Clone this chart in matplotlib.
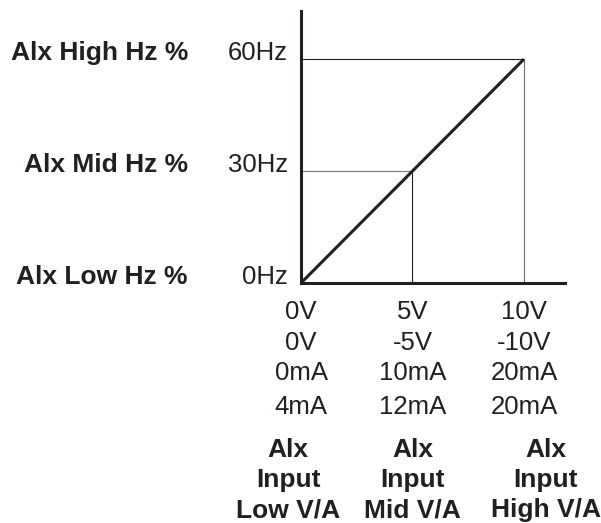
import matplotlib

matplotlib.use("Agg")
import matplotlib.pyplot as plt

# значения схемы: вход (В) -> частота (Гц)
x_points = [0, 5, 10]
hz_values = [0, 30, 60]
hz_labels = ["0Hz", "30Hz", "60Hz"]
hz_names = ["Alx Low Hz %", "Alx Mid Hz %", "Alx High Hz %"]

volt_row = ["0V", "5V", "10V"]
neg_volt_row = ["0V", "-5V", "-10V"]
ma_row = ["0mA", "10mA", "20mA"]
ma4_row = ["4mA", "12mA", "20mA"]
input_names = ["Alx\nInput\nLow V/A", "Alx\nInput\nMid V/A", "Alx\nInput\nHigh V/A"]

INK = "#231f20"
GREY = "#808080"

plt.rcParams["font.family"] = ["Liberation Sans", "DejaVu Sans"]

fig = plt.figure(figsize=(6.01, 5.23), dpi=100)
ax = fig.add_axes([301 / 601, 1 - 283 / 523, 264 / 601, 272 / 523])
ax.set_xlim(0, 11.84)
ax.set_ylim(0, 72.9)

for side in ("top", "right"):
    ax.spines[side].set_visible(False)
for side in ("left", "bottom"):
    ax.spines[side].set_linewidth(2.2)
    ax.spines[side].set_color(INK)
ax.set_xticks([])
ax.set_yticks([])

# направляющие линии
ax.plot([0, x_points[1]], [hz_values[1]] * 2, color=GREY, lw=0.9, zorder=1)
ax.plot([x_points[1]] * 2, [0, hz_values[1]], color=INK, lw=0.8, zorder=1)
ax.plot([0, x_points[2]], [hz_values[2]] * 2, color=INK, lw=0.8, zorder=1)
ax.plot([x_points[2]] * 2, [0, hz_values[2]], color="#6e6e6e", lw=0.8, zorder=1)

# характеристика
ax.plot(x_points, hz_values, color=INK, lw=2.2, solid_capstyle="butt",
        clip_on=False, zorder=3)

# подписи слева
for y, lab, name in zip(hz_values, hz_labels, hz_names):
    ax.annotate(lab, xy=(0, y), xytext=(-13, 6), textcoords="offset pixels",
                ha="right", va="center", fontsize=18.5, color=INK,
                annotation_clip=False)
    ax.annotate(name, xy=(0, y), xytext=(-113, 6), textcoords="offset pixels",
                ha="right", va="center", fontsize=19, fontweight="bold",
                color=INK, annotation_clip=False)

# подписи снизу
rows = [(volt_row, 29), (neg_volt_row, 60), (ma_row, 90), (ma4_row, 124)]
for labels, dy in rows:
    for x, lab in zip(x_points, labels):
        ax.annotate(lab, xy=(x, 0), xytext=(0, -dy), textcoords="offset pixels",
                    ha="center", va="center", fontsize=18.5, color=INK,
                    annotation_clip=False)

name_dx = [-13, 0, 22]
for x, name, dx in zip(x_points, input_names, name_dx):
    ax.annotate(name, xy=(x, 0), xytext=(dx, -197), textcoords="offset pixels",
                ha="center", va="center", multialignment="center",
                fontsize=19, fontweight="bold", color=INK,
                linespacing=1.32, annotation_clip=False)

fig.savefig("out.png", dpi=100)
plt.close(fig)
